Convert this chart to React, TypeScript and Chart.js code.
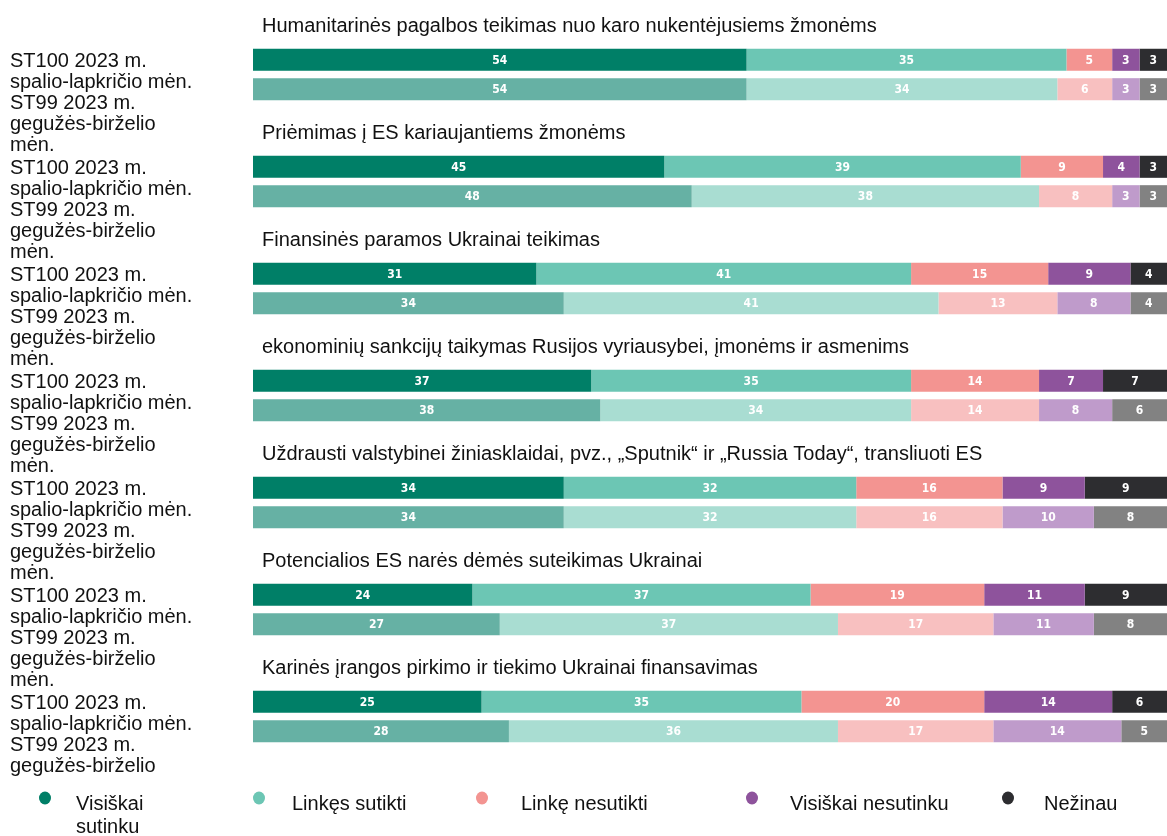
import React, { useEffect, useRef } from "react";
import { Chart, registerables } from "chart.js";

Chart.register(...registerables);

// ---------- data ----------
const TOPICS = [
  "Humanitarinės pagalbos teikimas nuo karo nukentėjusiems žmonėms",
  "Priėmimas į ES kariaujantiems žmonėms",
  "Finansinės paramos Ukrainai teikimas",
  "ekonominių sankcijų taikymas Rusijos vyriausybei, įmonėms ir asmenims",
  "Uždrausti valstybinei žiniasklaidai, pvz., „Sputnik“ ir „Russia Today“, transliuoti ES",
  "Potencialios ES narės dėmės suteikimas Ukrainai",
  "Karinės įrangos pirkimo ir tiekimo Ukrainai finansavimas",
];

const WAVE_ST100 = ["ST100 2023 m.", "spalio-lapkričio mėn."];
const WAVE_ST99 = ["ST99 2023 m.", "gegužės-birželio", "mėn."];

const SERIES = [
  "Visiškai sutinku",
  "Linkęs sutikti",
  "Linkę nesutikti",
  "Visiškai nesutinku",
  "Nežinau",
];

const ST100_TOTALLY_AGREE = [54, 45, 31, 37, 34, 24, 25];
const ST100_TEND_AGREE = [35, 39, 41, 35, 32, 37, 35];
const ST100_TEND_DISAGREE = [5, 9, 15, 14, 16, 19, 20];
const ST100_TOTALLY_DISAGREE = [3, 4, 9, 7, 9, 11, 14];
const ST100_DONT_KNOW = [3, 3, 4, 7, 9, 9, 6];

const ST99_TOTALLY_AGREE = [54, 48, 34, 38, 34, 27, 28];
const ST99_TEND_AGREE = [34, 38, 41, 34, 32, 37, 36];
const ST99_TEND_DISAGREE = [6, 8, 13, 14, 16, 17, 17];
const ST99_TOTALLY_DISAGREE = [3, 3, 8, 8, 10, 11, 14];
const ST99_DONT_KNOW = [3, 3, 4, 6, 8, 8, 5];

// ---------- styles ----------
const ST100_COLORS = ["#007f67", "#6cc6b4", "#f39491", "#8e539c", "#2d2d30"];
const ST99_COLORS = ["#66b1a4", "#a9ddd2", "#f8c0c0", "#bf9bcb", "#828282"];
const FONT = "'Liberation Sans', Arial, sans-serif";
const TEXT_COLOR = "#111";

const topicTitlePlugin = {
  id: "topicTitles",
  afterDatasetsDraw(chart: any) {
    const { ctx, chartArea } = chart;
    const yScale = chart.scales.y;
    ctx.save();
    ctx.font = `20px ${FONT}`;
    ctx.fillStyle = TEXT_COLOR;
    ctx.textAlign = "left";
    ctx.textBaseline = "middle";
    (chart.data.labels as string[]).forEach((label, i) => {
      const y = yScale.getPixelForValue(i) - 48;
      ctx.fillText(label, chartArea.left + 9, y);
    });
    ctx.restore();
  },
};

const valueLabelPlugin = {
  id: "valueLabels",
  afterDatasetsDraw(chart: any) {
    const { ctx } = chart;
    ctx.save();
    ctx.font = `bold 12px 'Liberation Sans Narrow', 'DejaVu Sans Condensed', ${FONT}`;
    ctx.fillStyle = "#ffffff";
    ctx.textAlign = "center";
    ctx.textBaseline = "middle";
    chart.data.datasets.forEach((ds: any, di: number) => {
      const meta = chart.getDatasetMeta(di);
      meta.data.forEach((el: any, i: number) => {
        const v = ds.data[i];
        if (v == null) return;
        const p = el.getCenterPoint();
        ctx.fillText(String(v), p.x, p.y + 1);
      });
    });
    ctx.restore();
  },
};

const LEGEND_SLOTS = [
  { dot: 45, text: 76, wrap: true },
  { dot: 259, text: 292, wrap: false },
  { dot: 482, text: 521, wrap: false },
  { dot: 752, text: 790, wrap: false },
  { dot: 1008, text: 1044, wrap: false },
];

const legendPlugin = {
  id: "customLegend",
  afterDraw(chart: any) {
    const { ctx, width, height } = chart;
    ctx.save();
    ctx.fillStyle = "#ffffff";
    ctx.fillRect(0, 776, width, height - 776);
    ctx.font = `20px ${FONT}`;
    ctx.textAlign = "left";
    ctx.textBaseline = "middle";
    SERIES.forEach((name, i) => {
      const slot = LEGEND_SLOTS[i];
      ctx.fillStyle = ST100_COLORS[i];
      ctx.beginPath();
      ctx.ellipse(slot.dot, 798, 6, 6.5, 0, 0, Math.PI * 2);
      ctx.fill();
      ctx.fillStyle = TEXT_COLOR;
      const lines = slot.wrap ? name.split(" ") : [name];
      lines.forEach((ln, k) => {
        ctx.fillText(ln, slot.text, 804 + k * 23);
      });
    });
    ctx.restore();
  },
};

export default function App() {
  const canvasRef = useRef<HTMLCanvasElement | null>(null);

  useEffect(() => {
    document.body.style.margin = "0";
    const canvas = canvasRef.current;
    if (!canvas) return;

    const st100 = [
      ST100_TOTALLY_AGREE,
      ST100_TEND_AGREE,
      ST100_TEND_DISAGREE,
      ST100_TOTALLY_DISAGREE,
      ST100_DONT_KNOW,
    ];
    const st99 = [
      ST99_TOTALLY_AGREE,
      ST99_TEND_AGREE,
      ST99_TEND_DISAGREE,
      ST99_TOTALLY_DISAGREE,
      ST99_DONT_KNOW,
    ];
    const common = {
      categoryPercentage: 0.55,
      barPercentage: 0.75,
      borderWidth: 0,
      borderSkipped: false,
    };
    const datasets: any[] = [];
    SERIES.forEach((name, i) => {
      datasets.push({
        label: name,
        data: st100[i],
        backgroundColor: ST100_COLORS[i],
        stack: "st100",
        ...common,
      });
    });
    SERIES.forEach((name, i) => {
      datasets.push({
        label: name,
        data: st99[i],
        backgroundColor: ST99_COLORS[i],
        stack: "st99",
        ...common,
      });
    });

    const chart = new Chart(canvas, {
      type: "bar",
      data: { labels: TOPICS, datasets },
      options: {
        indexAxis: "y",
        responsive: true,
        maintainAspectRatio: false,
        animation: false,
        layout: { padding: { left: 10, right: 0, top: 21, bottom: 66 } },
        scales: {
          x: { stacked: true, min: 0, max: 100, display: false },
          y: {
            stacked: true,
            grid: { display: false },
            border: { display: false },
            afterFit: (s: any) => {
              s.width = 243;
              s.paddingTop = 0;
              s.paddingBottom = 0;
            },
            ticks: {
              autoSkip: false,
              crossAlign: "far",
              labelOffset: 29,
              padding: 0,
              color: TEXT_COLOR,
              font: { size: 20, family: FONT, lineHeight: 1.04 },
              callback: () => [...WAVE_ST100, ...WAVE_ST99],
            },
          },
        },
        plugins: {
          legend: { display: false },
          tooltip: { enabled: false },
        },
      } as any,
      plugins: [topicTitlePlugin, valueLabelPlugin, legendPlugin],
    });

    return () => chart.destroy();
  }, []);

  return (
    <div style={{ position: "relative", width: 1167, height: 836 }}>
      <canvas ref={canvasRef} />
    </div>
  );
}
